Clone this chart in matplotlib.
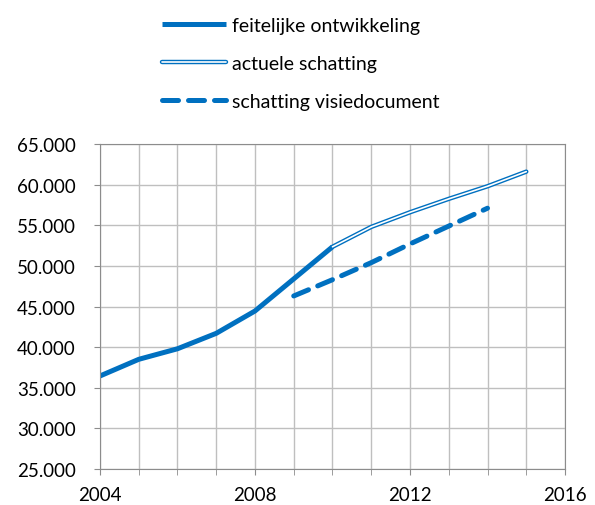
import matplotlib.pyplot as plt
from matplotlib.ticker import FuncFormatter, MultipleLocator

plt.rcParams['font.family'] = ['Lato', 'DejaVu Sans']

# feitelijke ontwikkeling
years_actual = [2004, 2005, 2006, 2007, 2008, 2009, 2010]
actual = [36450, 38500, 39800, 41700, 44450, 48400, 52350]

# actuele schatting
years_est = [2010, 2011, 2012, 2013, 2014, 2015]
est = [52350, 54800, 56600, 58250, 59800, 61600]

# schatting visiedocument
years_vis = [2009, 2010, 2011, 2012, 2013, 2014]
vis = [46300, 48300, 50400, 52700, 54900, 57100]

blue = '#0070c0'

fig = plt.figure(figsize=(5.95, 5.06), dpi=100)
ax = fig.add_axes([0.168, 0.0711, 0.7816, 0.6423])

l1, = ax.plot(years_actual, actual, color=blue, lw=3.6, solid_capstyle='butt')
l2a, = ax.plot(years_est, est, color=blue, lw=3.2, solid_capstyle='round')
l2b, = ax.plot(years_est, est, color='white', lw=1.2, solid_capstyle='round')
l3, = ax.plot(years_vis, vis, color=blue, lw=3.6, dashes=(3.2, 2.0),
              dash_capstyle='round')

ax.set_xlim(2004, 2016)
ax.set_ylim(25000, 65000)
ax.xaxis.set_major_locator(MultipleLocator(4))
ax.xaxis.set_minor_locator(MultipleLocator(1))
ax.yaxis.set_major_locator(MultipleLocator(5000))
ax.yaxis.set_major_formatter(FuncFormatter(lambda v, p: f'{int(v):,}'.replace(',', '.')))

ax.grid(True, which='both', color='#bfbfbf', lw=1)
ax.set_axisbelow(True)
for s in ax.spines.values():
    s.set_color('#8c8c8c')
ax.tick_params(which='both', direction='out', color='#8c8c8c', length=4.3,
               labelsize=13.5, colors='#8c8c8c', labelcolor='black')
ax.tick_params(axis='x', pad=8)
ax.tick_params(axis='y', pad=13)

fig.legend([l1, (l2a, l2b), l3],
           ['feitelijke ontwikkeling', 'actuele schatting', 'schatting visiedocument'],
           loc='upper left', bbox_to_anchor=(0.243, 1.0), frameon=False,
           fontsize=14, handlelength=3.3, handletextpad=0.3, labelspacing=1.1)

plt.savefig('out.png', dpi=100)
